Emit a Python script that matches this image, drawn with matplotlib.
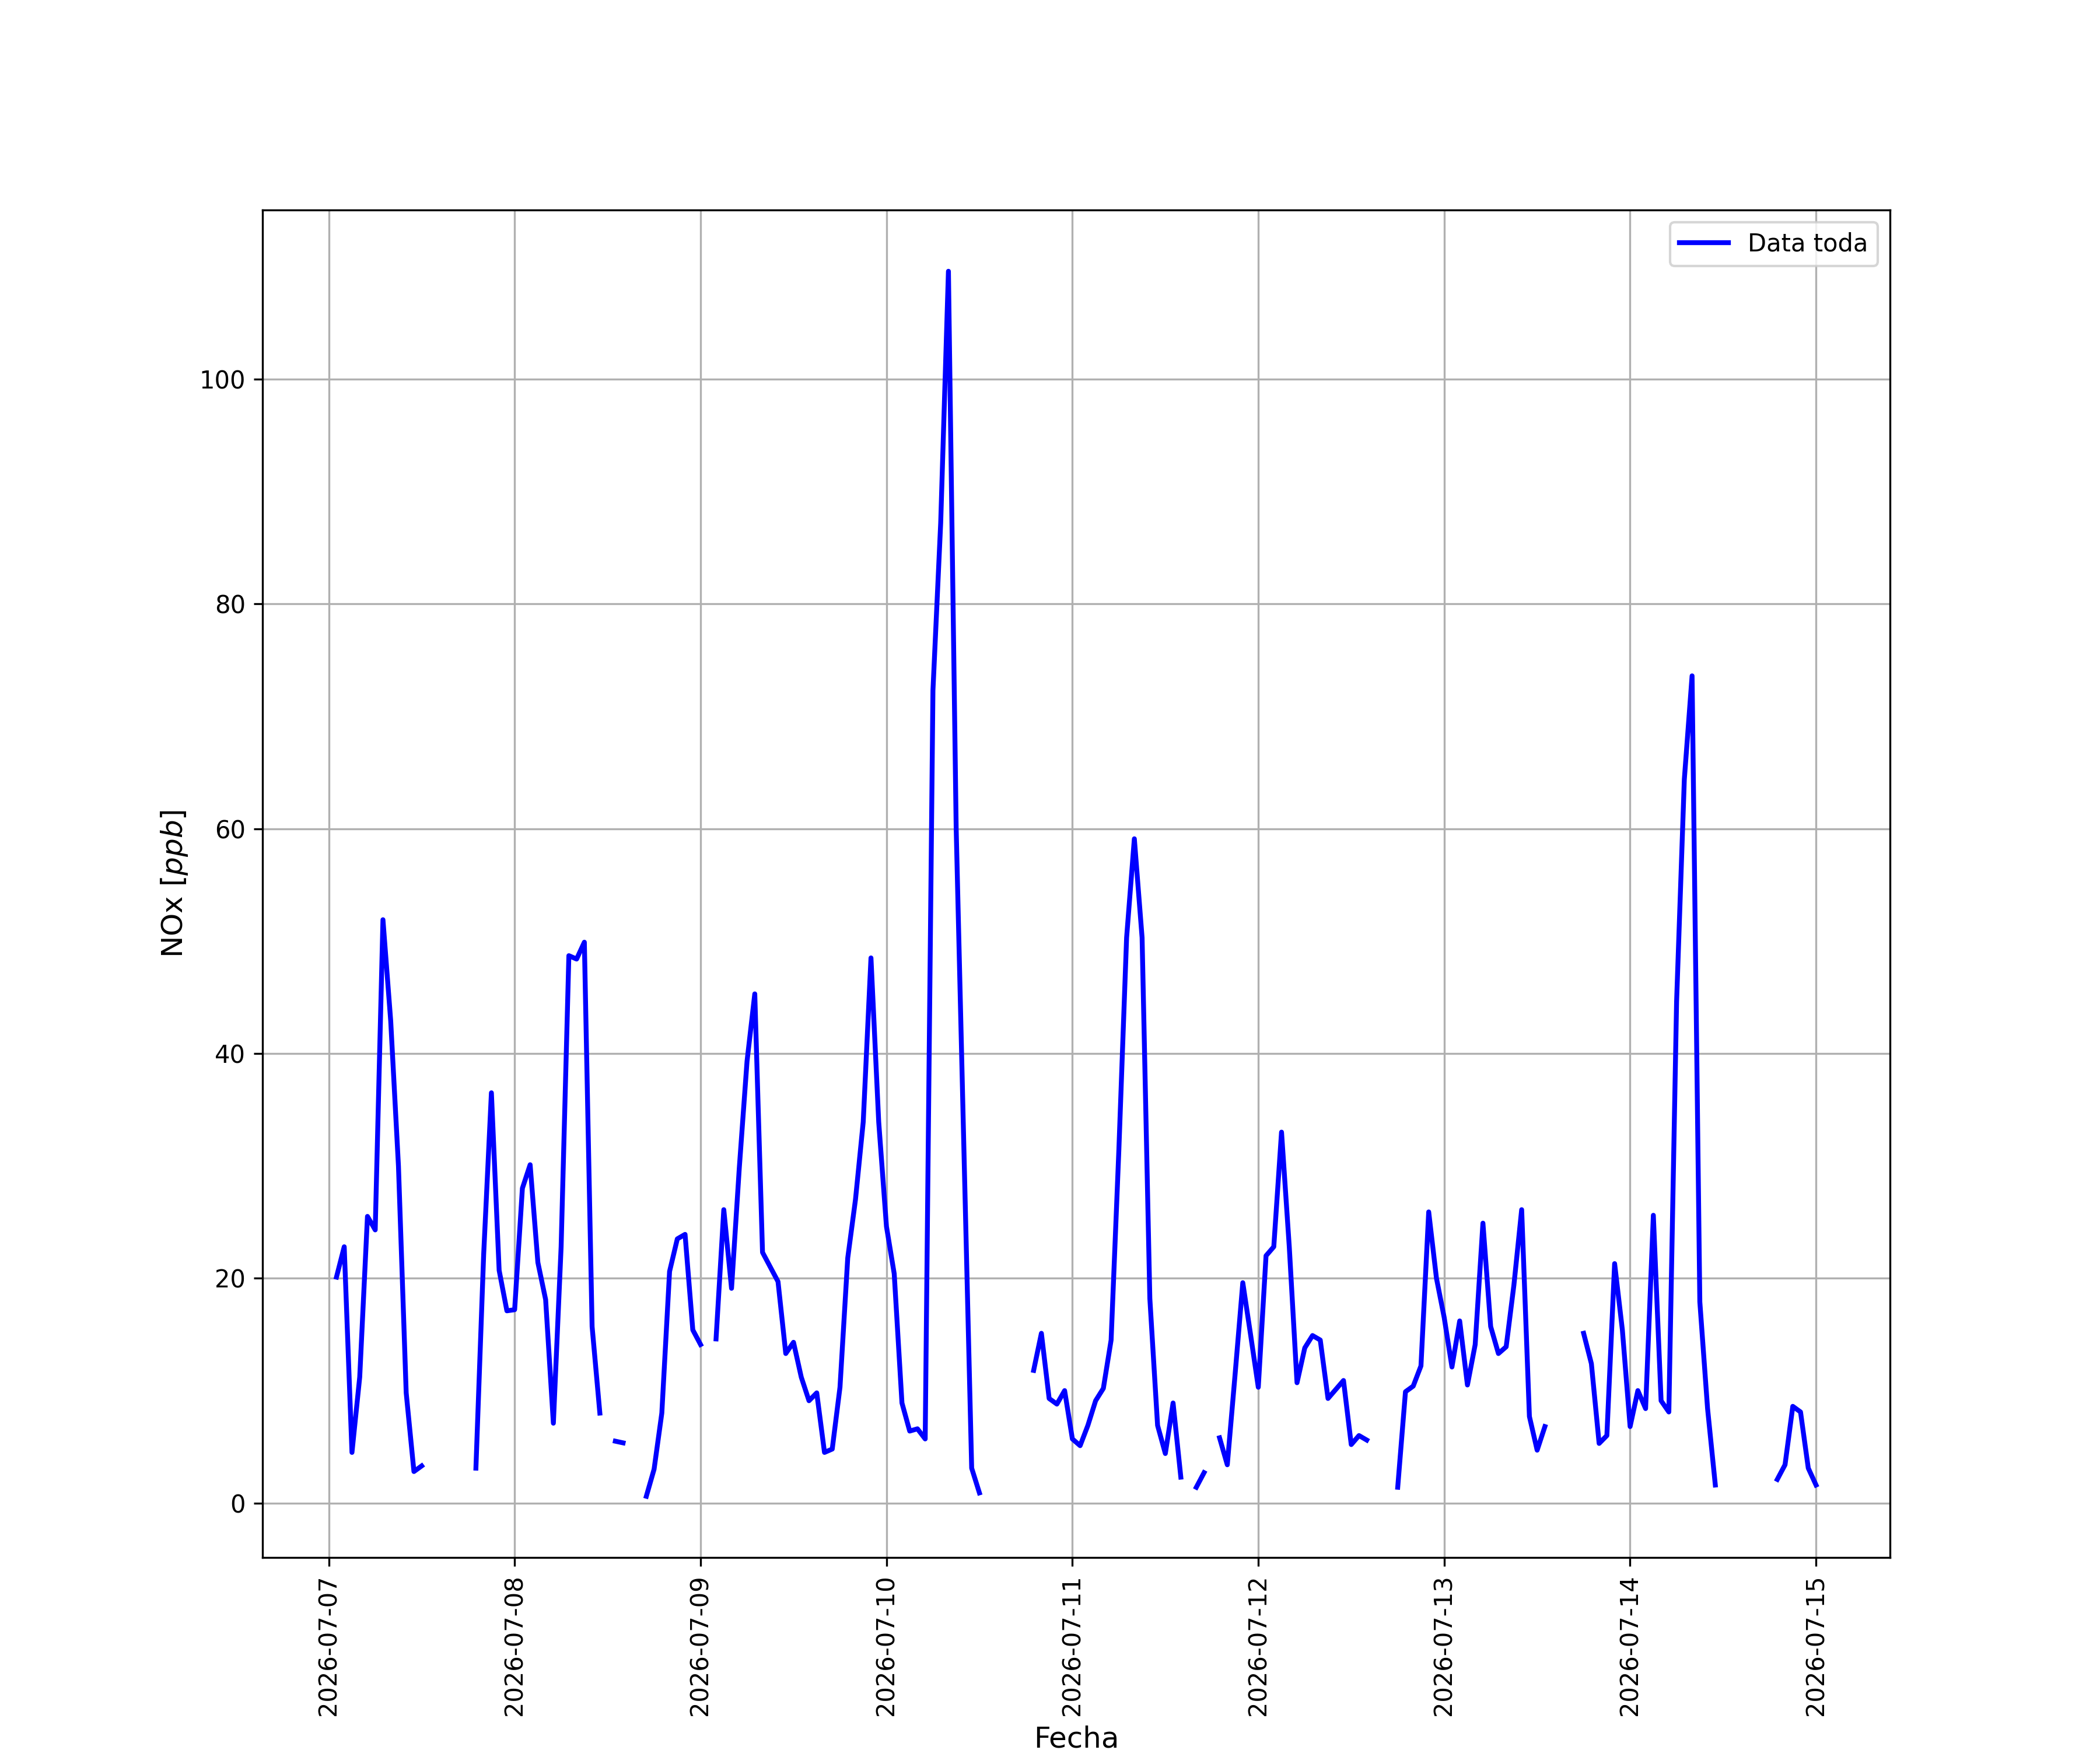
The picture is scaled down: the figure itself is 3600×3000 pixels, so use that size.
import numpy as np
import pandas as pd
import matplotlib
matplotlib.use("Agg")
import matplotlib.pyplot as plt
import matplotlib.dates as mdates

nan = np.nan

start_time = "2026-07-07 01:00"
n_hours = 192

day_0707 = [20.1, 22.8, 4.5, 11.2, 25.5, 24.3, 51.9, 42.9, 30.0, 9.8, 2.8, 3.3,
            nan, nan, nan, nan, nan, nan, 3.1, 22.1, 36.5, 20.7, 17.1]
day_0708 = [17.2, 28.0, 30.1, 21.4, 18.1, 7.1, 22.8, 48.7, 48.4, 49.9, 15.7, 8.0,
            nan, 5.5, 5.35, nan, nan, 0.6, 3.0, 8.0, 20.6, 23.5, 23.9, 15.4]
day_0709 = [14.1, nan, 14.6, 26.1, 19.1, 29.8, 39.3, 45.3, 22.3, 21.0, 19.7, 13.3,
            14.3, 11.2, 9.1, 9.8, 4.5, 4.8, 10.3, 21.8, 27.0, 33.9, 48.5, 33.9]
day_0710 = [24.6, 20.4, 8.9, 6.4, 6.6, 5.7, 72.3, 87.2, 109.6, 60.0, 31.4, 3.1,
            0.9, nan, nan, nan, nan, nan, nan, 11.8, 15.1, 9.3, 8.8, 10.0]
day_0711 = [5.7, 5.1, 6.9, 9.1, 10.2, 14.5, 31.4, 50.3, 59.1, 50.3, 18.2, 6.9,
            4.4, 8.9, 2.3, nan, 1.4, 2.7, nan, 5.8, 3.4, 11.4, 19.6, 15.0]
day_0712 = [10.3, 22.0, 22.8, 33.0, 22.8, 10.7, 13.8, 14.9, 14.5, 9.3, 10.1, 10.9,
            5.2, 6.0, 5.6, nan, nan, nan, 1.4, 9.9, 10.4, 12.2, 25.9, 20.0]
day_0713 = [16.5, 12.1, 16.2, 10.5, 14.1, 24.9, 15.7, 13.3, 13.9, 19.4, 26.1, 7.7,
            4.7, 6.8, nan, nan, nan, nan, 15.1, 12.4, 5.3, 6.0, 21.3, 15.4]
day_0714 = [6.8, 10.0, 8.4, 25.6, 9.1, 8.1, 44.6, 64.4, 73.6, 17.9, 8.4, 1.6,
            nan, nan, nan, nan, nan, nan, nan, 2.1, 3.4, 8.6, 8.1, 3.1]
day_0715 = [1.6]

nox = (day_0707 + day_0708 + day_0709 + day_0710 + day_0711 + day_0712
       + day_0713 + day_0714 + day_0715)
fechas = pd.date_range(start_time, periods=n_hours, freq="h")

series_label = "Data toda"
x_label = "Fecha"
y_label = "NOx [$ppb$]"

fig, ax = plt.subplots(figsize=(12, 10), dpi=300)
ax.plot(fechas, nox, color="blue", linewidth=2.0, label=series_label)
ax.xaxis.set_major_locator(mdates.DayLocator())
ax.xaxis.set_major_formatter(mdates.DateFormatter("%Y-%m-%d"))
plt.setp(ax.get_xticklabels(), rotation=90)
ax.set_xlabel(x_label, fontsize=12)
ax.set_ylabel(y_label, fontsize=12)
ax.grid(True)
ax.legend(loc="upper right")
fig.savefig("out.png", dpi=300)
